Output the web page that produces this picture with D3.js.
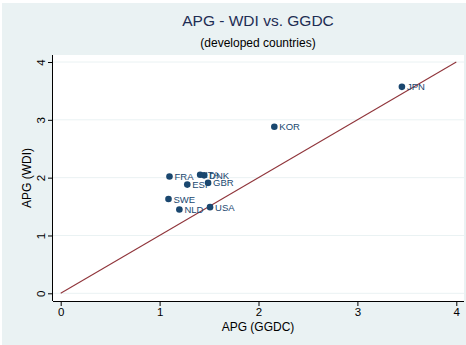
<!DOCTYPE html>
<html>
<head>
  <script src="https://d3js.org/d3.v7.min.js"></script>
  <style>
    body { margin: 0; background: white; }
    svg { display: block; font-family: "Liberation Sans", Arial, sans-serif; }
  </style>
</head>
<body>
  <svg width="466" height="345"></svg>
  <script>
  // data
  const countries = ["JPN", "KOR", "FRA", "ITA", "DNK", "ESP", "GBR", "SWE", "NLD", "USA"];
  const apgGGDC   = [3.45, 2.16, 1.10, 1.41, 1.45, 1.28, 1.49, 1.09, 1.20, 1.51];
  const apgWDI    = [3.57, 2.88, 2.02, 2.05, 2.04, 1.88, 1.91, 1.63, 1.45, 1.49];
  const ticks = [0, 1, 2, 3, 4];

  const points = countries.map((c, i) => ({ name: c, x: apgGGDC[i], y: apgWDI[i] }));

  const svg = d3.select("svg");

  // graph region
  svg.append("rect")
    .attr("x", 2).attr("y", 3).attr("width", 464).attr("height", 342)
    .attr("fill", "#eaf2f3");

  const plot = { left: 53, right: 464, top: 55, bottom: 301 };

  // plot region
  svg.append("rect")
    .attr("x", plot.left).attr("y", plot.top)
    .attr("width", plot.right - plot.left).attr("height", plot.bottom - plot.top)
    .attr("fill", "white");

  const x = d3.scaleLinear().domain([0, 4]).range([60.7, 456.3]);
  const y = d3.scaleLinear().domain([0, 4]).range([293.3, 62]);

  // gridlines
  svg.append("g").selectAll("line")
    .data(ticks).enter().append("line")
    .attr("x1", plot.left).attr("x2", plot.right)
    .attr("y1", d => y(d)).attr("y2", d => y(d))
    .attr("stroke", "#eaf2f3").attr("stroke-width", 1);

  // axes
  const xAxis = svg.append("g")
    .attr("transform", `translate(0,${plot.bottom})`)
    .call(d3.axisBottom(x).tickValues(ticks).tickSize(5).tickPadding(2).tickFormat(d3.format("d")));
  xAxis.select(".domain").attr("d", `M${plot.left},0.5H${plot.right}`).attr("stroke", "#000");
  xAxis.selectAll("text").attr("font-size", 11.5).attr("fill", "#000").attr("font-family", "Liberation Sans, Arial, sans-serif");

  const yAxis = svg.append("g")
    .attr("transform", `translate(${plot.left},0)`)
    .call(d3.axisLeft(y).tickValues(ticks).tickSize(5).tickFormat(d3.format("d")));
  yAxis.select(".domain").attr("d", `M-0.5,${plot.top}V${plot.bottom}`).attr("stroke", "#000");
  yAxis.selectAll("text")
    .attr("font-size", 11.5).attr("fill", "#000").attr("font-family", "Liberation Sans, Arial, sans-serif")
    .attr("x", null).attr("dy", null)
    .attr("text-anchor", "middle")
    .attr("transform", "translate(-8,0) rotate(-90)");

  // 45-degree line
  svg.append("line")
    .attr("x1", x(0)).attr("y1", y(0))
    .attr("x2", x(4)).attr("y2", y(4))
    .attr("stroke", "#90353b").attr("stroke-width", 1.1);

  // markers + labels
  svg.append("g").selectAll("circle")
    .data(points).enter().append("circle")
    .attr("cx", d => x(d.x)).attr("cy", d => y(d.y))
    .attr("r", 3.3).attr("fill", "#1a476f");

  svg.append("g").selectAll("text")
    .data(points).enter().append("text")
    .attr("x", d => x(d.x) + 5).attr("y", d => y(d.y) + 3.5)
    .attr("font-size", 9.5).attr("fill", "#1a476f")
    .text(d => d.name);

  // titles
  svg.append("text")
    .attr("x", 258).attr("y", 26).attr("text-anchor", "middle")
    .attr("font-size", 15.5).attr("fill", "#1e2d53")
    .text("APG - WDI vs. GGDC");
  svg.append("text")
    .attr("x", 258).attr("y", 47).attr("text-anchor", "middle")
    .attr("font-size", 12).attr("fill", "#000")
    .text("(developed countries)");

  svg.append("text")
    .attr("x", 258).attr("y", 331).attr("text-anchor", "middle")
    .attr("font-size", 12).attr("fill", "#000")
    .text("APG (GGDC)");
  svg.append("text")
    .attr("transform", `translate(31,${(plot.top + plot.bottom) / 2}) rotate(-90)`)
    .attr("text-anchor", "middle")
    .attr("font-size", 12).attr("fill", "#000")
    .text("APG (WDI)");
  </script>
</body>
</html>
